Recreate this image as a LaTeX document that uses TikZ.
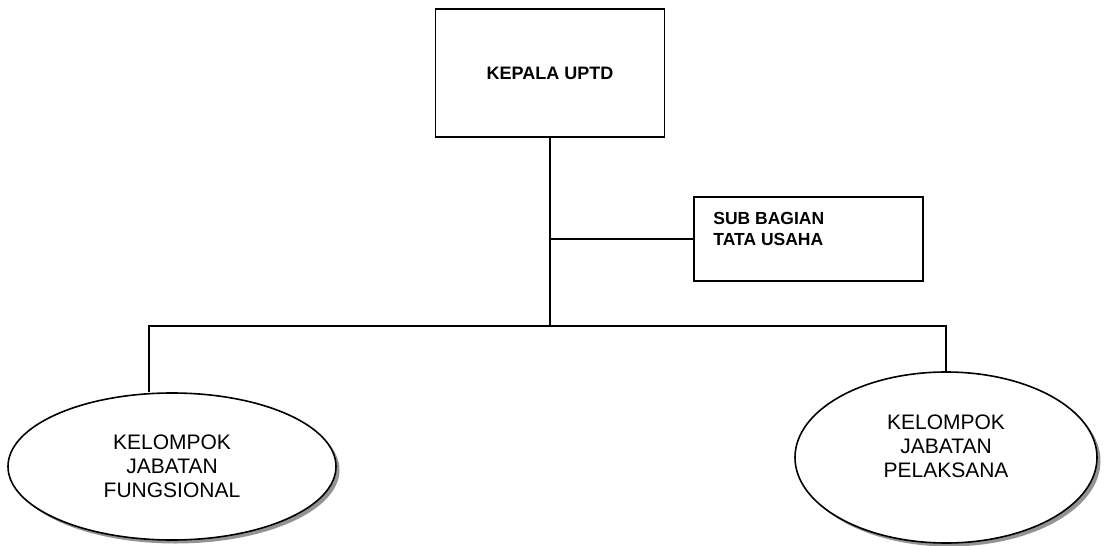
\documentclass[tikz,border=0pt]{standalone}
\usepackage{fontspec}
\setmainfont{Liberation Sans}
\usetikzlibrary{shapes.geometric,shadows}
\begin{document}
\begin{tikzpicture}[x=1pt,y=-1pt]
	\tikzset{box/.style = {shape=rectangle, draw, line width=1.6pt, inner sep=0pt, minimum width=229pt},
		grup/.style = {shape=ellipse, draw, line width=1.6pt, fill=white, inner sep=0pt, align=center, font=\fontsize{21}{24}\selectfont, drop shadow={shadow xshift=3.5pt, shadow yshift=-3.5pt, fill=gray!85, opacity=1}},
		garis/.style = {line width=1.6pt}}
	\useasboundingbox (0,0) rectangle (1104,546);

	\node[box, minimum height=128pt, font=\bfseries\fontsize{18}{21}\selectfont] (K_1) at (550,73) {KEPALA UPTD};
	\node[box, minimum height=84pt, label={[anchor=north west, align=left, inner sep=0pt, xshift=20pt, yshift=-16pt, font=\bfseries\fontsize{17.5}{20.5}\selectfont]north west:SUB BAGIAN\\TATA USAHA}] (T_1) at (808.5,239) {};

	\node[grup, minimum width=328pt, minimum height=147pt] (F_1) at (172,466.5) {KELOMPOK\\JABATAN\\FUNGSIONAL};
	\node[grup, minimum width=302pt, minimum height=171pt, label={[align=center, inner sep=0pt, yshift=11pt, font=\fontsize{21}{24}\selectfont]center:KELOMPOK\\JABATAN\\PELAKSANA}] (P_1) at (946,457.5) {};

	\coordinate (bus) at (550,326);
	\coordinate (kiri) at (149,326);

	\draw[garis] (K_1.south) -- (bus);
	\draw[garis] (T_1.west) -- (T_1.west -| K_1.south);
	\draw[garis] (F_1.north -| kiri) -- (kiri) -- (P_1.north |- bus) -- (P_1.north);

\end{tikzpicture}
\end{document}
